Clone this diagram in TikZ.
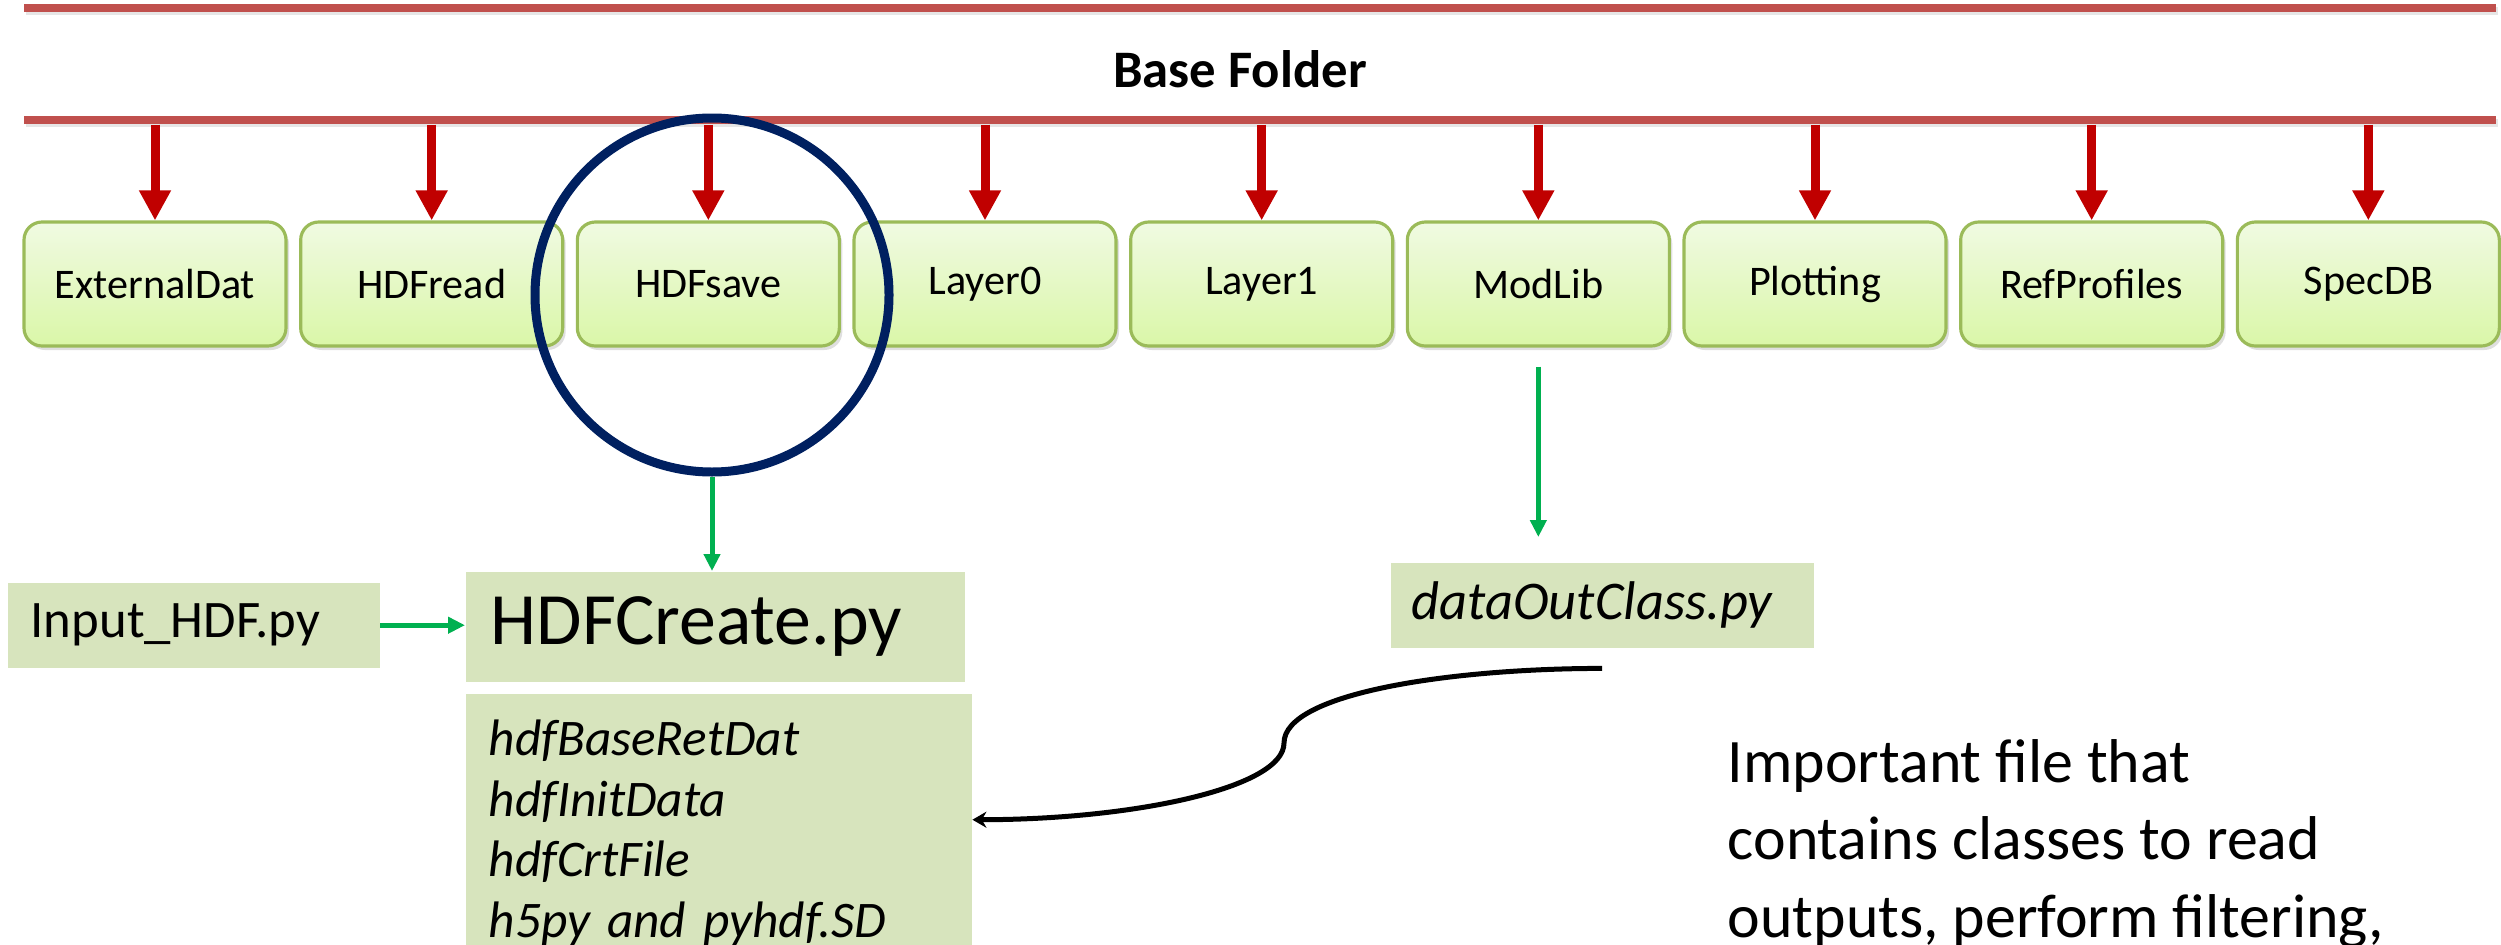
\documentclass[tikz,border=0pt]{standalone}
\usepackage{fontspec}
\setmainfont{Carlito}
\usepackage{xcolor}
\usetikzlibrary{positioning,arrows.meta,shadows}

\definecolor{barred}{HTML}{C0504D}
\definecolor{arrowred}{HTML}{C00000}
\definecolor{olivebd}{HTML}{9BBB59}
\definecolor{lighttop}{HTML}{F0FAE2}
\definecolor{lightbot}{HTML}{DAF7A8}
\definecolor{filegreen}{HTML}{D7E4BD}
\definecolor{ringnavy}{HTML}{002060}
\definecolor{arrowgreen}{HTML}{00B050}

\begin{document}
\begin{tikzpicture}[
    node distance=0.115cm,
    folder/.style={rectangle, rounded corners=0.18cm, draw=olivebd, line width=0.9pt, top color=lighttop, bottom color=lightbot, minimum width=2.62cm, minimum height=1.24cm, font=\fontsize{12}{14}\selectfont, drop shadow={opacity=0.25, shadow xshift=0.03cm, shadow yshift=-0.04cm}},
    bar/.style={rectangle, fill=barred, minimum width=24.72cm, minimum height=0.08cm, inner sep=0pt, drop shadow={opacity=0.2, shadow xshift=0.02cm, shadow yshift=-0.03cm}},
    pyfile/.style={rectangle, fill=filegreen, inner ysep=0pt, align=left, anchor=north west},
    redarrow/.style={-{Triangle[width=0.3cm,length=0.3cm]}, line width=0.09cm, draw=arrowred},
    greenarrow/.style={-{Triangle[width=0.16cm,length=0.17cm]}, line width=0.05cm, draw=arrowgreen},
    curvearrow/.style={-{Stealth[width=0.16cm,length=0.14cm]}, line width=0.05cm}
]
\useasboundingbox (0,0) rectangle (25.01,-9.44);

\node[bar] (topbar) at (12.60,-0.08) {};
\node[anchor=base, font=\fontsize{15}{18}\selectfont\bfseries] (basefolder) at (12.40,-0.87) {Base Folder};
\node[bar] (basebar) at (12.60,-1.20) {};

\node[folder] (extdat) at (1.55,-2.84) {ExternalDat};
\node[folder, right=of extdat] (hdfread) {HDFread};
\node[folder, right=of hdfread] (hdfsave) {HDFsave};
\node[folder, right=of hdfsave] (layer0) {Layer0};
\node[folder, right=of layer0] (layer1) {Layer1};
\node[folder, right=of layer1] (modlib) {ModLib};
\node[folder, right=of modlib] (plotting) {Plotting};
\node[folder, right=of plotting] (refprof) {RefProfiles};
\node[folder, right=of refprof] (specdb) {SpecDB};

\draw[redarrow] (basebar.south -| extdat.north) -- (extdat.north);
\draw[redarrow] (basebar.south -| hdfread.north) -- (hdfread.north);
\draw[redarrow] (basebar.south -| hdfsave.north) -- (hdfsave.north);
\draw[redarrow] (basebar.south -| layer0.north) -- (layer0.north);
\draw[redarrow] (basebar.south -| layer1.north) -- (layer1.north);
\draw[redarrow] (basebar.south -| modlib.north) -- (modlib.north);
\draw[redarrow] (basebar.south -| plotting.north) -- (plotting.north);
\draw[redarrow] (basebar.south -| refprof.north) -- (refprof.north);
\draw[redarrow] (basebar.south -| specdb.north) -- (specdb.north);

\node[circle, draw=ringnavy, line width=0.09cm, inner sep=0pt, minimum size=3.54cm] (ring) at (7.12,-2.95) {};

\node[pyfile, minimum height=1.10cm, text width=4.49cm, inner xsep=0.25cm, font=\fontsize{21}{25}\selectfont] (hdfcreate) at (4.65,-5.71) {HDFCreate.py};
\node[pyfile, minimum height=0.85cm, text width=3.26cm, inner xsep=0.23cm, font=\fontsize{15}{18}\selectfont] (input) at (0.07,-5.82) {Input\_HDF.py};
\node[pyfile, minimum height=2.78cm, text width=4.60cm, inner xsep=0.23cm, font=\fontsize{14.6}{17.2}\selectfont\itshape] (hdfmethods) at (4.65,-6.93) {hdfBaseRetDat\\hdfInitData\\hdfCrtFile\\h5py and pyhdf.SD};
\node[pyfile, minimum height=0.85cm, text width=3.81cm, inner xsep=0.21cm, font=\fontsize{15.5}{18}\selectfont\itshape] (dataout) at (13.90,-5.62) {dataOutClass.py};

\node[anchor=base west, align=left, inner sep=0pt, font=\fontsize{17.6}{22}\selectfont] (note) at (17.27,-9.37) {Important file that\\contains classes to read\\outputs, perform filtering,};

\draw[greenarrow] (ring.south) -- (ring.south |- hdfcreate.north);
\draw[greenarrow] (input.east) -- (hdfcreate.west |- input.east);
\draw[greenarrow, shorten <=0.19cm, shorten >=0.25cm] (modlib.south) -- (modlib.south |- dataout.north);

\coordinate (curvestart) at ([yshift=-0.2cm]dataout.south);
\coordinate (curvebend) at (12.84,-7.43);
\draw[curvearrow] (curvestart) .. controls +(-1.5,0) and +(0,0.5) .. (curvebend) .. controls +(0,-0.45) and +(1.6,0) .. ([yshift=0.13cm]hdfmethods.east);
\end{tikzpicture}
\end{document}
